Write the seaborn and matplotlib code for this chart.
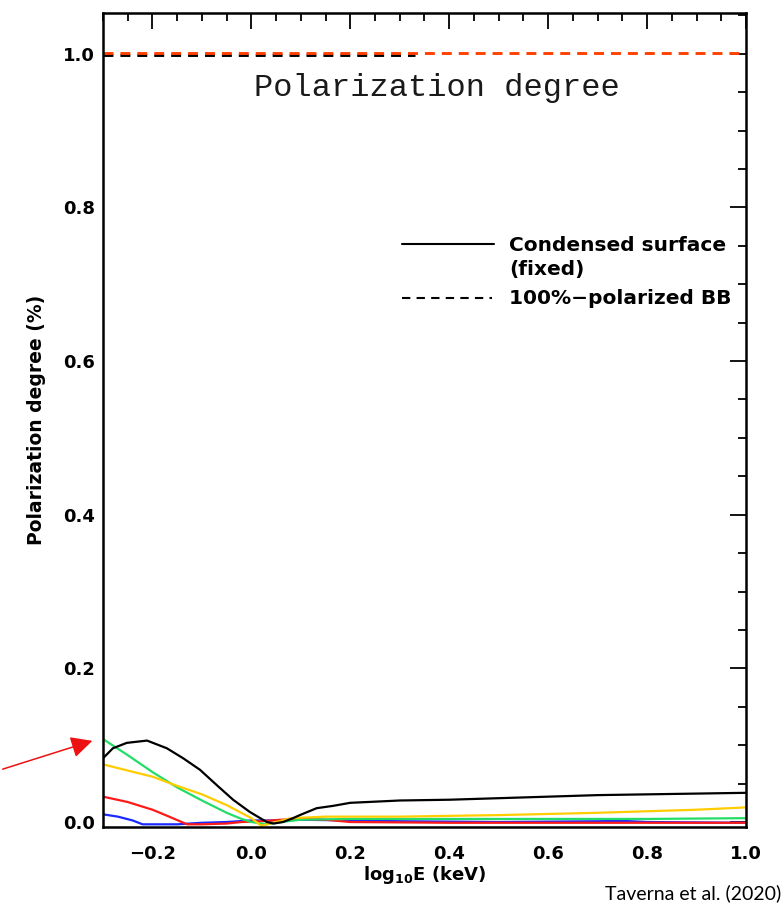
import numpy as np
import pandas as pd
import matplotlib
matplotlib.use("Agg")
import matplotlib.pyplot as plt
import matplotlib.transforms as mtransforms
import seaborn as sns
from matplotlib.ticker import MultipleLocator

# ---------------- data ----------------
black_x = [-0.3, -0.28, -0.252, -0.211, -0.171, -0.138, -0.104, -0.07, -0.037, -0.003,
           0.031, 0.045, 0.064, 0.084, 0.098, 0.132, 0.165, 0.2, 0.234, 0.3, 0.4,
           0.5, 0.6, 0.7, 0.8, 0.9, 1.0]
black_y = [0.083, 0.096, 0.103, 0.106, 0.096, 0.083, 0.068, 0.048, 0.029, 0.013,
           0.0, -0.002, 0.0, 0.005, 0.009, 0.018, 0.021, 0.025, 0.026, 0.028, 0.029,
           0.031, 0.033, 0.035, 0.036, 0.037, 0.038]

green_x = [-0.3, -0.25, -0.2, -0.15, -0.1, -0.05, -0.02, 0.0, 0.03, 0.06, 0.1,
           0.2, 0.4, 0.6, 0.8, 1.0]
green_y = [0.108, 0.087, 0.065, 0.045, 0.028, 0.012, 0.004, 0.0, -0.003, 0.0, 0.003,
           0.004, 0.004, 0.004, 0.004, 0.005]

yellow_x = [-0.3, -0.25, -0.2, -0.15, -0.1, -0.05, 0.0, 0.02, 0.05, 0.08, 0.15,
            0.3, 0.5, 0.7, 0.8, 0.9, 1.0]
yellow_y = [0.075, 0.067, 0.059, 0.047, 0.036, 0.022, 0.005, -0.005, 0.0, 0.005, 0.007,
            0.007, 0.009, 0.012, 0.014, 0.016, 0.019]

red_x = [-0.3, -0.25, -0.2, -0.17, -0.13, -0.1, -0.05, -0.02, 0.02, 0.06, 0.1,
         0.15, 0.2, 0.4, 1.0]
red_y = [0.033, 0.026, 0.016, 0.008, -0.003, -0.003, -0.002, 0.0, 0.001, 0.003, 0.004,
         0.003, 0.0, -0.001, -0.001]

blue_x = [-0.3, -0.27, -0.24, -0.22, -0.15, -0.1, -0.05, 0.0, 0.05, 0.1, 0.2, 0.3,
          0.5, 0.7, 0.75, 0.8, 1.0]
blue_y = [0.010, 0.007, 0.002, -0.003, -0.003, -0.001, 0.0, 0.002, 0.002, 0.003,
          0.002, 0.001, 0.0, 0.001, 0.0015, 0.0, -0.001]

# 100%-polarized BB curves (all at 1.0)
bb_x = [-0.3, 1.0]
bb_y = [1.0, 1.0]
bb_black_x = [-0.3, 0.33]
bb_black_y = [1.0, 1.0]

series_colors = {"black": "#000000", "green": "#22dd66", "yellow": "#ffcc00",
                 "red": "#ff1a1a", "blue": "#1a2aff"}

frames = []
for name, xs, ys in [("blue", blue_x, blue_y), ("red", red_x, red_y),
                     ("green", green_x, green_y), ("yellow", yellow_x, yellow_y),
                     ("black", black_x, black_y)]:
    frames.append(pd.DataFrame({"x": xs, "y": ys, "model": name}))
df = pd.concat(frames, ignore_index=True)
bb_df = pd.DataFrame({"x": bb_x, "y": bb_y})
bb_black_df = pd.DataFrame({"x": bb_black_x, "y": bb_black_y})

# ---------------- figure ----------------
sns.set_style("white")
plt.rcParams["font.family"] = ["DejaVu Sans"]
plt.rcParams["text.color"] = "black"
plt.rcParams["axes.labelcolor"] = "black"
plt.rcParams["xtick.color"] = "black"
plt.rcParams["ytick.color"] = "black"

fig = plt.figure(figsize=(7.84, 9.11), dpi=100)
ax = fig.add_axes([0.1314, 0.0922, 0.8201, 0.8935])

sns.lineplot(data=df, x="x", y="y", hue="model", palette=series_colors,
             hue_order=["blue", "red", "green", "yellow", "black"],
             estimator=None, sort=False, legend=False, linewidth=1.6, ax=ax)

# 100%-polarized BB lines (dashes aligned: same width and pattern)
dash = (0, (3.4, 2.4))
sns.lineplot(data=bb_black_df, x="x", y="y", color="black", linewidth=2.1,
             linestyle=dash, estimator=None, legend=False, ax=ax)
ax.lines[-1].set_transform(ax.transData + mtransforms.ScaledTranslation(0, -0.9 / 100, fig.dpi_scale_trans))
sns.lineplot(data=bb_df, x="x", y="y", color="#ff4000", linewidth=2.1,
             linestyle=dash, estimator=None, legend=False, ax=ax)
ax.lines[-1].set_transform(ax.transData + mtransforms.ScaledTranslation(0, 0.6 / 100, fig.dpi_scale_trans))

ax.set_xlim(-0.3, 1.0)
ax.set_ylim(-0.0065, 1.053)

ax.xaxis.set_minor_locator(MultipleLocator(0.05))
ax.yaxis.set_minor_locator(MultipleLocator(0.05))
ax.set_xticks([-0.2, 0.0, 0.2, 0.4, 0.6, 0.8, 1.0])
ax.set_xticklabels(["\u22120.2", "0.0", "0.2", "0.4", "0.6", "0.8", "1.0"])
ax.set_yticks([0.0, 0.2, 0.4, 0.6, 0.8, 1.0])
ax.set_yticklabels(["0.0", "0.2", "0.4", "0.6", "0.8", "1.0"])

ax.tick_params(which="both", direction="in", top=True, right=True,
               colors="black", width=1.3)
ax.tick_params(which="major", length=11.5)
ax.tick_params(which="minor", length=5.5)
ax.tick_params(axis="x", which="major", pad=13, labelsize=13)
ax.tick_params(axis="y", which="major", pad=6, labelsize=13)
for lab in ax.get_xticklabels() + ax.get_yticklabels():
    lab.set_fontweight("bold")

for sp in ax.spines.values():
    sp.set_visible(True)
    sp.set_color("black")
    sp.set_linewidth(1.8)

ax.set_xlabel(r"log$_{\mathbf{10}}$E (keV)", fontsize=13, fontweight="bold", labelpad=1)
ax.set_ylabel("Polarization degree (%)", fontsize=13.5, fontweight="bold", labelpad=12)


def fx(px):
    return px / 784.0


def fy(py):
    return 1.0 - py / 911.0


# annotation text inside the plot
fig.text(fx(437), fy(88), "Polarization degree", ha="center", va="center",
         fontsize=23, family="Liberation Mono", color="#1a1a1a")

# legend drawn by hand
leg_font = dict(fontsize=14.5, fontweight="bold", va="center", ha="left",
                transform=fig.transFigure)
fig.lines.append(plt.Line2D([fx(402), fx(494)], [fy(244), fy(244)],
                            color="black", linewidth=1.5, transform=fig.transFigure))
fig.lines.append(plt.Line2D([fx(402), fx(492)], [fy(298), fy(298)],
                            color="black", linewidth=1.5, linestyle=(0, (4, 3)),
                            transform=fig.transFigure))
fig.text(fx(509), fy(245), "Condensed surface", **leg_font)
fig.text(fx(509), fy(270), "(fixed)", **leg_font)
fig.text(fx(509), fy(298), "100%\u2212polarized BB", **leg_font)

# source note
fig.text(fx(781), fy(893), "Taverna et al. (2020)", ha="right", va="center",
         fontsize=14, family="Lato", color="black")

# red arrow
fig.add_artist(matplotlib.patches.FancyArrowPatch(
    (fx(0), fy(770)), (fx(95), fy(740)), transform=fig.transFigure,
    arrowstyle="-|>,head_length=10,head_width=5", color="#ee1111",
    linewidth=1.1, mutation_scale=1.3))

fig.savefig("out.png", dpi=100)
